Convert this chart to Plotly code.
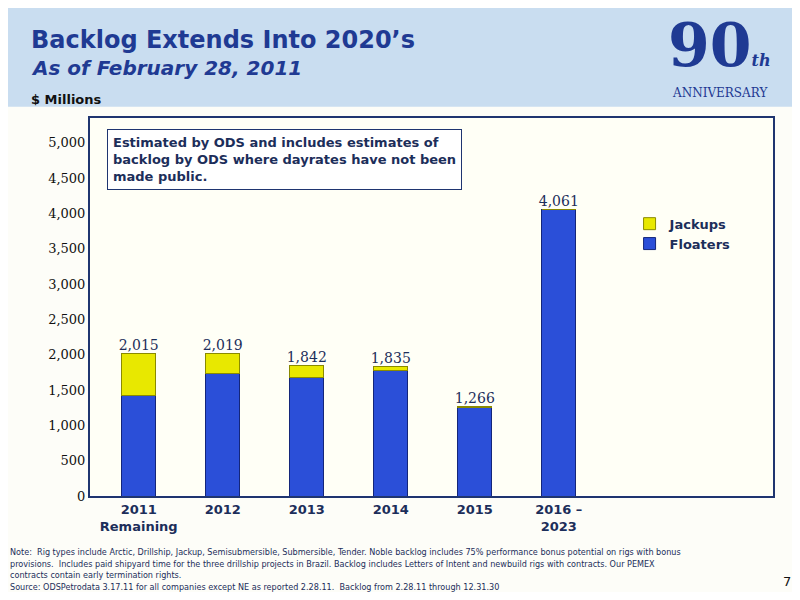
import plotly.graph_objects as go

categories = ["2011<br>Remaining", "2012", "2013", "2014", "2015", "2016 –<br>2023"]
floaters = [1420, 1733, 1676, 1776, 1250, 4061]
jackups = [595, 286, 166, 59, 16, 0]
totals = [2015, 2019, 1842, 1835, 1266, 4061]
total_labels = ["2,015", "2,019", "1,842", "1,835", "1,266", "4,061"]

fig = go.Figure()
fig.add_trace(go.Bar(x=categories, y=floaters, name="<b>Floaters</b>", width=0.4,
                     marker=dict(color="#2B4FD8", line=dict(color="#14267A", width=1))))
fig.add_trace(go.Bar(x=categories, y=jackups, name="<b>Jackups</b>", width=0.4,
                     marker=dict(color="#E8E800", line=dict(color="#8A8A00", width=1))))
fig.add_trace(go.Scatter(x=categories, y=totals, mode="text", text=total_labels,
                         textposition="top center", showlegend=False, hoverinfo="skip",
                         textfont=dict(family="DejaVu Serif", size=14, color="#1C2E5A")))

fig.update_layout(
    width=784, height=584, barmode="stack",
    paper_bgcolor="#FDFDF8", plot_bgcolor="#FFFFF6",
    margin=dict(l=82, r=19, t=110, b=96),
    font=dict(family="Verdana, DejaVu Sans", color="#111"),
    legend=dict(x=0.79, y=0.76, xanchor="left", yanchor="top", bgcolor="rgba(0,0,0,0)",
                traceorder="reversed", font=dict(size=13, color="#1C2E5A"),
                itemwidth=30, tracegroupgap=10),
    xaxis=dict(range=[-0.58, 7.55], showline=True, mirror=True, linecolor="#1F3570", linewidth=2,
               ticks="", tickfont=dict(size=13, color="#1C2E5A", family="DejaVu Sans"),
               tickvals=categories, ticktext=["<b>" + c + "</b>" for c in categories],
               showgrid=False),
    yaxis=dict(range=[0, 5350], tickvals=list(range(0, 5001, 500)), tickformat=",",
               showline=True, mirror=True, linecolor="#1F3570", linewidth=2, showgrid=False,
               ticks="", tickfont=dict(size=13, family="DejaVu Serif", color="#111")),
    shapes=[dict(type="rect", xref="paper", yref="paper", x0=-0.3, x1=1.3, y0=1.03, y1=2,
                 fillcolor="#C9DDF0", line=dict(width=0), layer="below")],
    annotations=[
        dict(text="<b>Backlog Extends Into 2020’s</b>", xref="paper", yref="paper", x=-0.09, y=1.25,
             xanchor="left", yanchor="top", showarrow=False, font=dict(size=24, color="#1F3A93")),
        dict(text="<b><i>As of February 28, 2011</i></b>", xref="paper", yref="paper", x=-0.09, y=1.168,
             xanchor="left", yanchor="top", showarrow=False, font=dict(size=20, color="#1F3A93")),
        dict(text="<b>$ Millions</b>", xref="paper", yref="paper", x=-0.09, y=1.025,
             xanchor="left", yanchor="bottom", showarrow=False, font=dict(size=13, color="#111")),
        dict(text="<b>Estimated by ODS and includes estimates of<br>backlog by ODS where dayrates have not been<br>made public.</b>",
             xref="paper", yref="paper", x=0.025, y=0.97, xanchor="left", yanchor="top", align="left",
             showarrow=False, bordercolor="#1F3570", borderwidth=1, borderpad=5, bgcolor="#FFFFFF",
             font=dict(size=13, color="#1C2E5A")),
        dict(text="<b><span style='font-size:60px'>90</span><span style='font-size:16px'><i>th</i></span></b>",
             xref="paper", yref="paper", x=1.0, y=1.29, xanchor="right", yanchor="top",
             showarrow=False, font=dict(family="DejaVu Serif", size=16, color="#1F3A93")),
        dict(text="ANNIVERSARY", xref="paper", yref="paper", x=0.995, y=1.09, xanchor="right", yanchor="top",
             showarrow=False, font=dict(family="DejaVu Serif", size=12, color="#1F3A93")),
        dict(text="Note:  Rig types include Arctic, Drillship, Jackup, Semisubmersible, Submersible, Tender. Noble backlog includes 75% performance bonus potential on rigs with bonus<br>"
                  "provisions.  Includes paid shipyard time for the three drillship projects in Brazil. Backlog includes Letters of Intent and newbuild rigs with contracts. Our PEMEX<br>"
                  "contracts contain early termination rights.<br>"
                  "Source: ODSPetrodata 3.17.11 for all companies except NE as reported 2.28.11.  Backlog from 2.28.11 through 12.31.30",
             xref="paper", yref="paper", x=-0.12, y=-0.13, xanchor="left", yanchor="top", align="left",
             showarrow=False, font=dict(size=9, color="#1C2E5A", family="DejaVu Sans Condensed")),
        dict(text="7", xref="paper", yref="paper", x=1.03, y=-0.2, xanchor="right", yanchor="top",
             showarrow=False, font=dict(size=13, color="#111")),
    ],
)

fig.write_html("out.html")
